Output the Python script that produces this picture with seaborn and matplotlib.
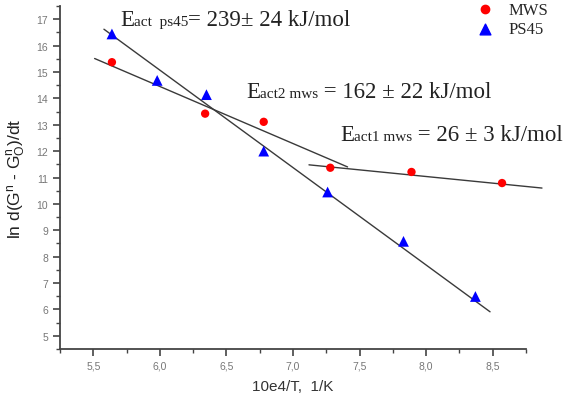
import numpy as np
import pandas as pd
import matplotlib
matplotlib.use("Agg")
import matplotlib.pyplot as plt
import seaborn as sns
from matplotlib.ticker import MultipleLocator, FuncFormatter
from matplotlib.offsetbox import TextArea, HPacker, AnnotationBbox

# data
mws_x = [5.64, 6.34, 6.78, 7.28, 7.89, 8.57]
mws_y = [15.37, 13.42, 13.11, 11.37, 11.21, 10.79]
ps45_x = [5.64, 5.98, 6.35, 6.78, 7.26, 7.83, 8.37]
ps45_y = [16.44, 14.68, 14.14, 12.00, 10.45, 8.58, 6.49]

# fitted lines (end points)
fit_ps45_x = [5.58, 8.48]
fit_ps45_y = [16.62, 5.91]
fit_mws2_x = [5.51, 7.41]
fit_mws2_y = [15.51, 11.40]
fit_mws1_x = [7.12, 8.87]
fit_mws1_y = [11.48, 10.60]

df = pd.DataFrame({
    "x": mws_x + ps45_x,
    "y": mws_y + ps45_y,
    "sample": ["MWS"] * len(mws_x) + ["PS45"] * len(ps45_x),
})

sns.set_style("ticks")
plt.rcParams["font.family"] = ["Liberation Sans", "DejaVu Sans"]
plt.rcParams["mathtext.default"] = "regular"

fig = plt.figure(figsize=(5.67, 4.02), dpi=100)
ax = fig.add_axes([60 / 567, 1 - 350 / 402, 466 / 567, 343 / 402])

line_kw = dict(color="#3a3a3a", lw=1.0)
ax.plot(fit_ps45_x, fit_ps45_y, **line_kw)
ax.plot(fit_mws2_x, fit_mws2_y, **line_kw)
ax.plot(fit_mws1_x, fit_mws1_y, clip_on=False, **line_kw)

sns.scatterplot(data=df, x="x", y="y", hue="sample", style="sample",
                palette={"MWS": "#ff0000", "PS45": "#0000ff"},
                markers={"MWS": "o", "PS45": "^"},
                size="sample", sizes={"MWS": 36, "PS45": 60},
                edgecolor="none", zorder=3, ax=ax, legend=False)

ax.set_xlim(5.25, 8.75)
ax.set_ylim(4.5, 17.5)
ax.xaxis.set_minor_locator(MultipleLocator(0.25))
ax.yaxis.set_minor_locator(MultipleLocator(0.5))
ax.set_xticks(np.arange(5.5, 8.51, 0.5))
ax.set_yticks(np.arange(5, 17.1, 1))
ax.xaxis.set_major_formatter(FuncFormatter(lambda v, p: f"{v:.1f}".replace(".", ",")))
ax.yaxis.set_major_formatter(FuncFormatter(lambda v, p: f"{v:.0f}"))

for s in ["top", "right"]:
    ax.spines[s].set_visible(False)
for s in ["left", "bottom"]:
    ax.spines[s].set_color("#444444")
    ax.spines[s].set_linewidth(1.3)
ax.tick_params(which="major", length=5, width=1.2, color="#444444",
               labelsize=7.5, labelcolor="#777777", direction="out")
ax.tick_params(which="minor", length=3, width=1.0, color="#444444", direction="out")

ax.set_xlabel("10e4/T,  1/K", fontsize=11, color="#333333", labelpad=6)
ax.set_ylabel(r"ln d(G$^{n}$ - G$_{O}^{n}$)/dt", fontsize=12.5, color="#222222", labelpad=6)

# annotation texts, serif with small parts sitting on the baseline
serif = "Liberation Serif"

def label(parts, x, y):
    boxes = [TextArea(t, textprops=dict(fontsize=fs, family=serif, color="#222222"))
             for t, fs in parts]
    pack = HPacker(children=boxes, align="baseline", pad=0, sep=0)
    ab = AnnotationBbox(pack, (x / 567, 1 - y / 402), xycoords="figure fraction",
                        box_alignment=(0, 0), frameon=False, pad=0)
    fig.add_artist(ab)

label([("E", 16.5), ("act  ps45", 11), ("= 239± 24 kJ/mol", 16.5)], 120, 31)
label([("E", 16.5), ("act2 mws", 11), (" = 162 ± 22 kJ/mol", 16.5)], 246, 103)
label([("E", 16.5), ("act1 mws", 11), (" = 26 ± 3 kJ/mol", 16.5)], 340, 146)

# legend
ax.scatter([], [], s=36, c="#ff0000", marker="o", label="MWS")
ax.scatter([], [], s=60, c="#0000ff", marker="^", label="PS45")
ax.legend(loc="upper left", bbox_to_anchor=(462 / 567, 1 + 4 / 402),
          bbox_transform=fig.transFigure, frameon=False,
          prop=dict(family=serif, size=12), handletextpad=0.4,
          labelspacing=0.2, borderaxespad=0)

fig.savefig("out.png", dpi=100)
